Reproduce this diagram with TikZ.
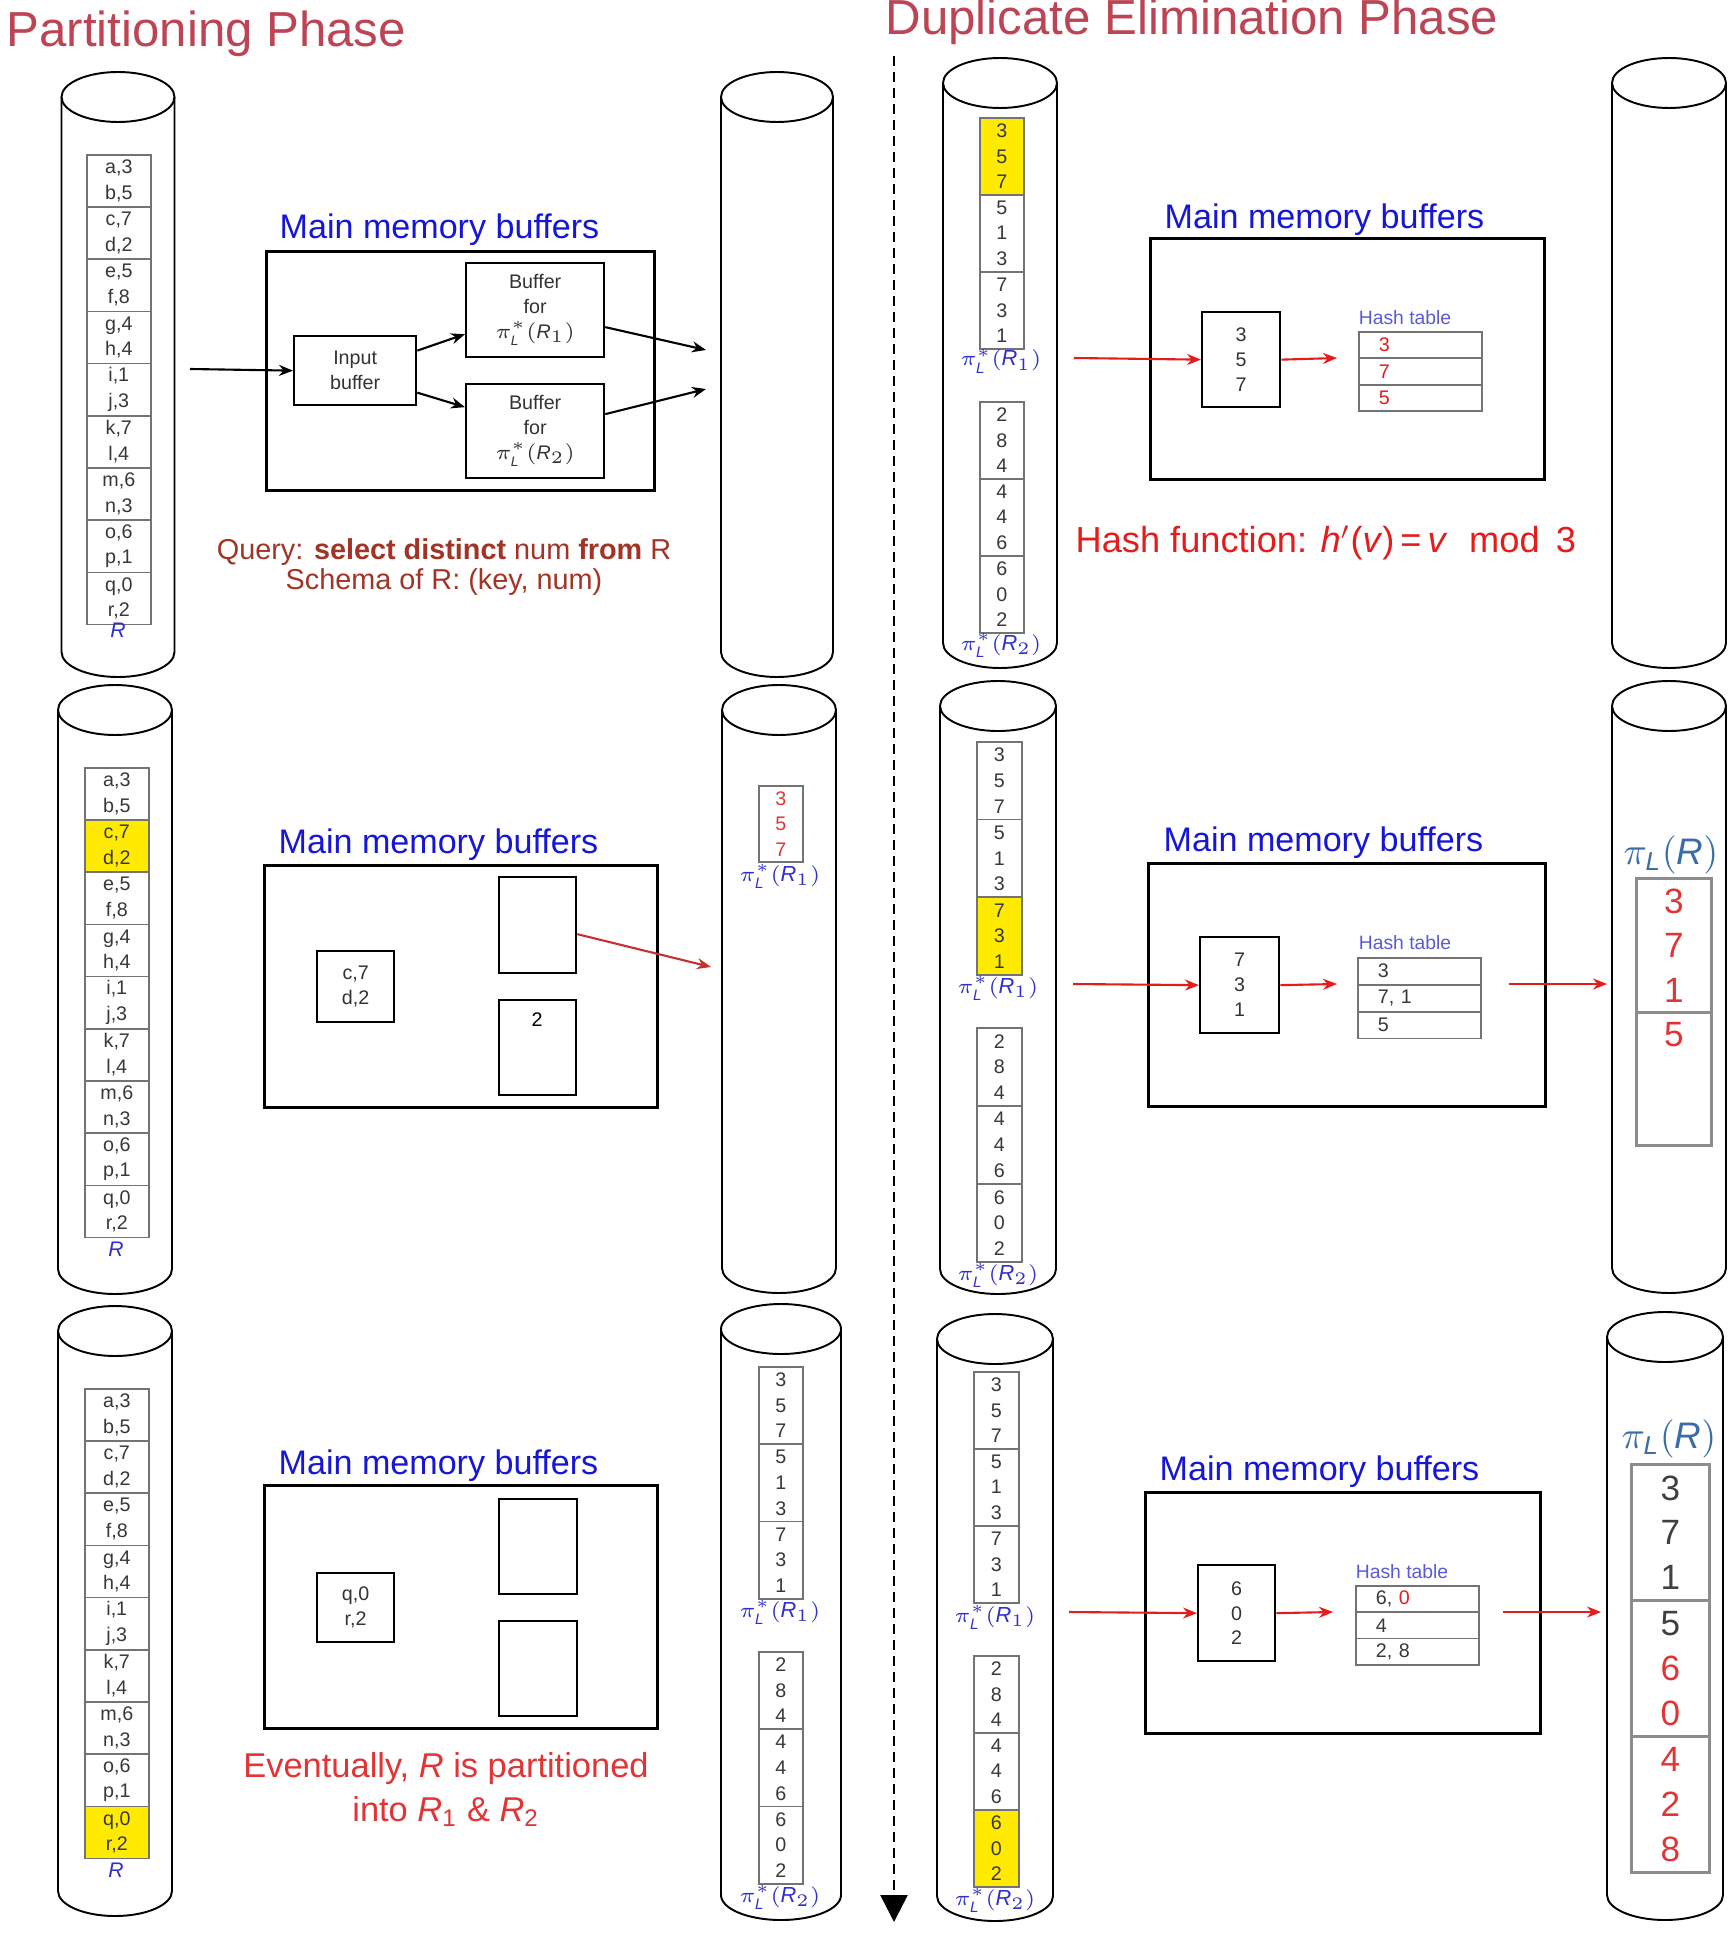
\documentclass[tikz,border=0pt]{standalone}
\usepackage{amsmath}
\usepackage{fontspec}
\setmainfont{Liberation Sans}
\usetikzlibrary{arrows.meta}

\definecolor{phasered}{RGB}{188,68,84}
\definecolor{memblue}{RGB}{22,22,215}
\definecolor{labblue}{RGB}{48,48,205}
\definecolor{querybrown}{RGB}{162,52,38}
\definecolor{hashred}{RGB}{228,28,28}
\definecolor{outred}{RGB}{226,52,52}
\definecolor{partred}{RGB}{200,48,48}
\definecolor{steel}{RGB}{58,108,168}
\definecolor{hiyellow}{RGB}{255,234,0}

\newcommand{\piproj}[1]{$\pi^*_{\textit{L}}(\textit{R}_{#1})$}
\newcommand{\piresult}{$\pi_{\textit{L}}(\textit{R})$}

\tikzset{
  txt/.style={inner sep=0pt},
  disk/.style={line width=0.55pt},
  cell/.style={draw=black!55, line width=0.45pt, inner sep=0pt, anchor=north west,
    align=center, text=black!78, font=\fontsize{5.6}{7.3}\selectfont},
  memory/.style={draw, line width=0.75pt, anchor=north west, inner sep=0pt},
  buffer/.style={draw, line width=0.65pt, anchor=north west, inner sep=0pt,
    align=center, text=black!80, font=\fontsize{5.6}{7.1}\selectfont},
  memtitle/.style={txt, anchor=base west, text=memblue, font=\fontsize{9.7}{11}\selectfont},
  plabel/.style={txt, text=labblue, font=\fontsize{6.2}{7}\selectfont},
  rname/.style={txt, text=labblue, font=\fontsize{6}{7}\selectfont\itshape},
  hashtitle/.style={txt, text=labblue!80, font=\fontsize{5.5}{6}\selectfont},
  hashrow/.style={draw=black!55, line width=0.45pt, anchor=north west, inner ysep=0pt,
    inner xsep=2mm, text width=8.3mm, minimum height=2.65mm, align=left,
    text=black!78, font=\fontsize{5.6}{6}\selectfont},
  result/.style={draw=black!45, line width=0.85pt, anchor=north west, inner sep=0pt,
    align=center, text=outred, font=\fontsize{10}{12.7}\selectfont},
  flow/.style={->, line width=0.6pt},
  redflow/.style={->, line width=0.6pt, hashred},
}

% a disk drawn as a cylinder: centre x, top y, bottom y, half width (pixels)
\newcommand{\disk}[4]{%
  \draw[disk] (#1,#2) ellipse[x radius=#4*0.1mm, y radius=2.5mm];
  \draw[disk] ({#1-#4},#2) -- ({#1-#4},#3)
    arc[start angle=180, end angle=360, x radius=#4*0.1mm, y radius=2.5mm] -- ({#1+#4},#2);
}

% the relation R, two tuples per block: x, y, yellow block, names
\newcommand{\relcol}[4]{%
  \foreach \ka/\va/\kb/\vb [count=\grp] in {a/3/b/5,c/7/d/2,e/5/f/8,g/4/h/4,i/1/j/3,k/7/l/4,m/6/n/3,o/6/p/1,q/0/r/2}{
    \ifnum\grp=#3 \def\cellfill{hiyellow}\else\def\cellfill{white}\fi
    \node[cell, fill=\cellfill, minimum width=6.4mm, minimum height=5.22mm]
      (#4\grp) at (#1,{#2+52.2*(\grp-1)}) {\ka,\va\\\kb,\vb};
  }}

% a column of values, three per block: x, y, width, block height, yellow block, names, values, style
\newcommand{\numcol}[8]{%
  \foreach \ea/\eb/\ec [count=\grp] in {#7}{
    \ifnum\grp=#5 \def\cellfill{hiyellow}\else\def\cellfill{white}\fi
    \node[cell, #8, fill=\cellfill, minimum width=#3, minimum height=#4*0.1mm]
      (#6\grp) at (#1,{#2+#4*(\grp-1)}) {\ea\\\eb\\\ec};
  }}

\begin{document}
\begin{tikzpicture}[x=0.1mm, y=-0.1mm, >={Stealth[length=1.4mm, width=1.1mm]}]
    \useasboundingbox (0,0) rectangle (1731,1950);

    % phases
    \node[txt, anchor=base west, text=phasered, font=\fontsize{14}{16}\selectfont]
        (ptitle) at (6,47) {Partitioning Phase};
    \node[txt, anchor=base west, text=phasered, font=\fontsize{14}{16}\selectfont]
        (dtitle) at (885,35) {Duplicate Elimination Phase};
    \coordinate (time0) at (894,56);
    \coordinate (time1) at (894,1922);
    \draw[line width=0.7pt, dash pattern=on 1mm off 0.6mm,
        -{Triangle[length=2.7mm, width=2.7mm]}] (time0) -- (time1);

    % disks
    \disk{118}{97}{652}{56.5}
    \disk{777}{97}{652}{56}
    \disk{1000}{83}{643}{57}
    \disk{1669}{83}{643}{57}
    \disk{115}{710}{1269}{57}
    \disk{779}{710}{1268}{57}
    \disk{998}{706}{1269}{58}
    \disk{1669}{706}{1268}{57}
    \disk{115}{1331}{1891}{57}
    \disk{781}{1329}{1895}{60}
    \disk{995}{1339}{1896}{58}
    \disk{1665}{1337}{1895}{58}

    % ---- partitioning, step 1
    \relcol{86}{154}{0}{ra}
    \node[rname] (rlab1) at (118,630) {R};
    \coordinate (feed1) at (190,369);
    \node[memory, minimum width=38.8mm, minimum height=23.9mm] (mem1) at (265,250) {};
    \node[memtitle] (memt1) at (279,239) {Main memory buffers};
    \node[buffer, minimum width=12.2mm, minimum height=6.9mm] (inbuf) at (293,335) {Input\\buffer};
    \node[buffer, minimum width=13.8mm, minimum height=9.4mm] (bufa) at (465,262)
        {Buffer\\for\\\piproj{1}};
    \node[buffer, minimum width=13.8mm, minimum height=9.4mm] (bufb) at (465,383)
        {Buffer\\for\\\piproj{2}};
    \coordinate (outa) at (706,350);
    \coordinate (outb) at (706,389);
    \draw[flow] (feed1) -- (inbuf.west);
    \draw[flow] ([yshift=2mm]inbuf.east) -- ([yshift=-2.4mm]bufa.west);
    \draw[flow] ([yshift=-2.2mm]inbuf.east) -- ([yshift=2.4mm]bufb.west);
    \draw[flow] ([yshift=-1.7mm]bufa.east) -- (outa);
    \draw[flow] ([yshift=1.7mm]bufb.east) -- (outb);
    \node[txt, anchor=base, text=querybrown, font=\fontsize{8.2}{9}\selectfont] (query) at (444,559)
        {Query: \textbf{select distinct} num \textbf{from} R};
    \node[txt, anchor=base, text=querybrown, font=\fontsize{8.2}{9}\selectfont] (schema) at (444,589)
        {Schema of R: (key, num)};

    % ---- partitioning, step 2
    \relcol{84}{767}{2}{rb}
    \node[rname] (rlab2) at (116,1249) {R};
    \node[memory, minimum width=39.3mm, minimum height=24.2mm] (mem2) at (263,864) {};
    \node[memtitle] (memt2) at (278,853) {Main memory buffers};
    \node[buffer, minimum width=7.7mm, minimum height=7.1mm] (inb2) at (316,950) {c,7\\d,2};
    \node[buffer, minimum width=7.7mm, minimum height=9.6mm] (upb2) at (498,876) {};
    \node[buffer, minimum width=7.7mm, minimum height=9.5mm] (lob2) at (498,999) {};
    \node[txt, text=black, font=\fontsize{5.6}{7}\selectfont] (two2) at (537,1020) {2};
    \coordinate (outa2) at (711,967);
    \draw[->, line width=0.6pt, partred] ([yshift=-0.9mm]upb2.east) -- (outa2);
    \numcol{758}{785}{4.4mm}{76}{0}{pc}{3/5/7}{text=outred}
    \node[plabel] (plc) at (780,876) {\piproj{1}};

    % ---- partitioning, step 3
    \relcol{84}{1388}{9}{rc}
    \node[rname] (rlab3) at (116,1870) {R};
    \node[memory, minimum width=39.3mm, minimum height=24.3mm] (mem3) at (263,1484) {};
    \node[memtitle] (memt3) at (278,1474) {Main memory buffers};
    \node[buffer, minimum width=7.7mm, minimum height=6.9mm] (inb3) at (316,1572) {q,0\\r,2};
    \node[buffer, minimum width=7.8mm, minimum height=9.5mm] (upb3) at (498,1498) {};
    \node[buffer, minimum width=7.8mm, minimum height=9.5mm] (lob3) at (498,1620) {};
    \node[txt, anchor=base, text=outred, font=\fontsize{9.8}{11}\selectfont] (ev1) at (446,1777)
        {Eventually, \textit{R} is partitioned};
    \node[txt, anchor=base, text=outred, font=\fontsize{9.8}{11}\selectfont] (ev2) at (446,1821)
        {into \textit{R}\textsubscript{1} \& \textit{R}\textsubscript{2}};
    \numcol{758}{1366}{4.4mm}{77.3}{0}{pf}{3/5/7,5/1/3,7/3/1}{}
    \node[plabel] (plf) at (780,1612) {\piproj{1}};
    \numcol{758}{1651}{4.4mm}{77.3}{0}{pg}{2/8/4,4/4/6,6/0/2}{}
    \node[plabel] (plg) at (780,1897) {\piproj{2}};

    % ---- duplicate elimination, step 1
    \numcol{979}{117}{4.4mm}{77}{1}{pa}{3/5/7,5/1/3,7/3/1}{}
    \node[plabel] (pla) at (1001,361) {\piproj{1}};
    \numcol{979}{401}{4.4mm}{77}{0}{pb}{2/8/4,4/4/6,6/0/2}{}
    \node[plabel] (plb) at (1001,645) {\piproj{2}};
    \node[memory, minimum width=39.4mm, minimum height=24.1mm] (mem4) at (1149,237) {};
    \node[memtitle] (memt4) at (1164,229) {Main memory buffers};
    \node[buffer, minimum width=7.8mm, minimum height=9.5mm] (sb1) at (1201,311) {3\\5\\7};
    \node[hashtitle] (htl1) at (1405,318) {Hash table};
    \node[hashrow, text=hashred] (hta1) at (1358,331) {3};
    \node[hashrow, text=hashred] (hta2) at (1358,357.5) {7};
    \node[hashrow, text=hashred] (hta3) at (1358,384) {5};
    \coordinate (hin1) at (1074,358);
    \coordinate (hout1) at (1337,358);
    \draw[redflow] (hin1) -- (sb1.west);
    \draw[redflow] (sb1.east) -- (hout1);
    \node[txt, anchor=base west, text=hashred, font=\fontsize{10.3}{12}\selectfont] (hashfn) at (1075,552)
        {Hash function: \textit{h}$'$(\textit{v})\,=\,\textit{v}\hspace{0.6em}mod\hspace{0.45em}3};

    % ---- duplicate elimination, step 2
    \numcol{976}{741}{4.5mm}{77.7}{3}{pd}{3/5/7,5/1/3,7/3/1}{}
    \node[plabel] (pld) at (998,988) {\piproj{1}};
    \numcol{976}{1027}{4.5mm}{78}{0}{pe}{2/8/4,4/4/6,6/0/2}{}
    \node[plabel] (ple) at (998,1275) {\piproj{2}};
    \node[memory, minimum width=39.7mm, minimum height=24.3mm] (mem5) at (1147,862) {};
    \node[memtitle] (memt5) at (1163,851) {Main memory buffers};
    \node[buffer, minimum width=7.9mm, minimum height=9.6mm] (sb2) at (1199,936) {7\\3\\1};
    \node[hashtitle] (htl2) at (1405,943) {Hash table};
    \node[hashrow] (htb1) at (1357,957) {3};
    \node[hashrow] (htb2) at (1357,984) {7, 1};
    \node[hashrow] (htb3) at (1357,1011) {5};
    \coordinate (hin2) at (1073,984);
    \coordinate (hout2) at (1337,984);
    \coordinate (rin2) at (1509,984);
    \coordinate (rout2) at (1607,984);
    \draw[redflow] (hin2) -- (sb2.west);
    \draw[redflow] (sb2.east) -- (hout2);
    \draw[redflow] (rin2) -- (rout2);
    \node[txt, text=steel, font=\fontsize{10.5}{12}\selectfont] (pil2) at (1671,855) {\piresult};
    \node[result, minimum width=7.5mm, minimum height=13.4mm] (res2a) at (1635,877) {3\\7\\1};
    \node[result, minimum width=7.5mm, minimum height=13.3mm] (res2b) at (1635,1011) {5\\~\\~};

    % ---- duplicate elimination, step 3
    \numcol{973}{1371}{4.5mm}{77}{0}{ph}{3/5/7,5/1/3,7/3/1}{}
    \node[plabel] (plh) at (995,1617) {\piproj{1}};
    \numcol{973}{1655}{4.5mm}{77}{3}{pi}{2/8/4,4/4/6,6/0/2}{}
    \node[plabel] (plk) at (995,1900) {\piproj{2}};
    \node[memory, minimum width=39.5mm, minimum height=24.1mm] (mem6) at (1144,1491) {};
    \node[memtitle] (memt6) at (1159,1480) {Main memory buffers};
    \node[buffer, minimum width=7.7mm, minimum height=9.6mm] (sb3) at (1197,1564) {6\\0\\2};
    \node[hashtitle] (htl3) at (1402,1572) {Hash table};
    \node[hashrow] (htc1) at (1355,1585) {6, \textcolor{hashred}{0}};
    \node[hashrow] (htc2) at (1355,1611.3) {4};
    \node[hashrow] (htc3) at (1355,1637.6) {2, 8};
    \coordinate (hin3) at (1069,1612);
    \coordinate (hout3) at (1333,1612);
    \coordinate (rin3) at (1503,1612);
    \coordinate (rout3) at (1601,1612);
    \draw[redflow] (hin3) -- (sb3.west);
    \draw[redflow] (sb3.east) -- (hout3);
    \draw[redflow] (rin3) -- (rout3);
    \node[txt, text=steel, font=\fontsize{10.5}{12}\selectfont] (pil3) at (1669,1439) {\piresult};
    \node[result, text=black!75, minimum width=7.8mm, minimum height=13.6mm] (res3a) at (1630,1463) {3\\7\\1};
    \node[result, text=black!75, minimum width=7.8mm, minimum height=13.6mm] (res3b) at (1630,1599)
        {5\\\textcolor{outred}{6}\\\textcolor{outred}{0}};
    \node[result, minimum width=7.8mm, minimum height=13.6mm] (res3c) at (1630,1735) {4\\2\\8};
\end{tikzpicture}
\end{document}
